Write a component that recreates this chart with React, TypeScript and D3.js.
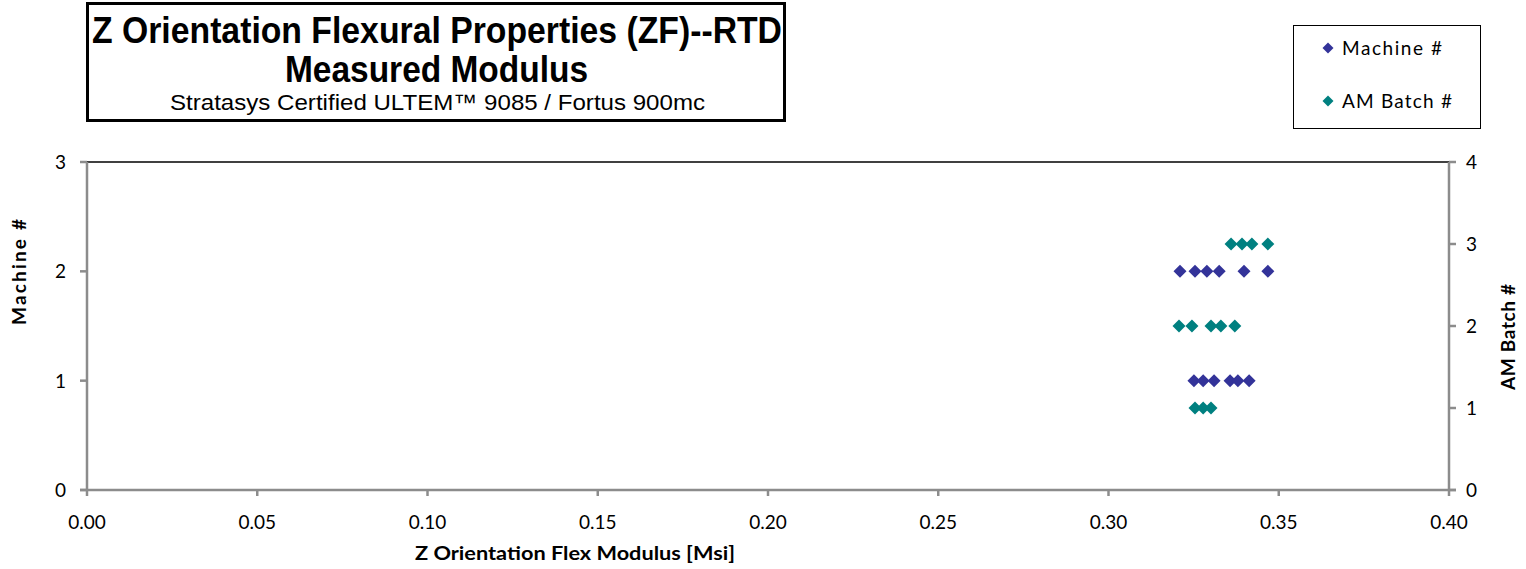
import React from "react";
import * as d3 from "d3";

const machineLevels = [2, 2, 2, 2, 2, 2, 1, 1, 1, 1, 1, 1];
const machineModulus = [0.321, 0.3254, 0.3289, 0.3325, 0.3398, 0.3468, 0.3251, 0.3278, 0.331, 0.3357, 0.338, 0.3413];
const batchLevels = [3, 3, 3, 3, 2, 2, 2, 2, 2, 1, 1, 1];
const batchModulus = [0.336, 0.3392, 0.3421, 0.3468, 0.3207, 0.3245, 0.3301, 0.333, 0.3371, 0.3254, 0.3278, 0.3301];
const xTicks = [0, 0.05, 0.1, 0.15, 0.2, 0.25, 0.3, 0.35, 0.4];
const leftTicks = [0, 1, 2, 3];
const rightTicks = [0, 1, 2, 3, 4];

const W = 1526, H = 569;
const L = 87, R = 1449, T = 162, B = 490;
const machineColor = "#333399";
const batchColor = "#008080";
const axisColor = "#8c8c8c";
const tickFont = "Lato, 'Open Sans', sans-serif";
const titleFont = "'Liberation Sans Narrow', 'Liberation Sans', Arial, sans-serif";

function diamond(cx: number, cy: number, r: number) {
  return `M${cx},${cy - r}L${cx + r},${cy}L${cx},${cy + r}L${cx - r},${cy}Z`;
}

export default function App() {
  const x = d3.scaleLinear().domain([0, 0.4]).range([L, R]);
  const yL = d3.scaleLinear().domain([0, 3]).range([B, T]);
  const yR = d3.scaleLinear().domain([0, 4]).range([B, T]);
  const r = 6.5;
  return (
    <div style={{ position: "absolute", left: 0, top: 0 }}>
      <svg width={W} height={H} style={{ display: "block", background: "#fff" }}>
        {/* title box */}
        <rect x={87.5} y={3.5} width={697} height={117} fill="#fff" stroke="#000" strokeWidth={3} />
        <text x={92} y={43} fontFamily={titleFont} fontWeight="bold" fontSize={36} textLength={690} lengthAdjust="spacingAndGlyphs">
          Z Orientation Flexural Properties (ZF)--RTD
        </text>
        <text x={285} y={82} fontFamily={titleFont} fontWeight="bold" fontSize={36} textLength={303} lengthAdjust="spacingAndGlyphs">
          Measured Modulus
        </text>
        <text x={170} y={110} fontFamily={titleFont} fontSize={22} textLength={535} lengthAdjust="spacingAndGlyphs">
          Stratasys Certified  ULTEM™  9085 / Fortus 900mc
        </text>

        {/* legend */}
        <rect x={1293.5} y={25.5} width={187} height={103} fill="#fff" stroke="#000" strokeWidth={1} />
        <path d={diamond(1328, 48, 5.5)} fill={machineColor} />
        <text x={1342} y={55} fontFamily={tickFont} fontSize={19} textLength={100} lengthAdjust="spacing">Machine #</text>
        <path d={diamond(1328, 101, 5.5)} fill={batchColor} />
        <text x={1342} y={108} fontFamily={tickFont} fontSize={19} textLength={110} lengthAdjust="spacing">AM Batch #</text>

        {/* plot frame */}
        <line x1={L} x2={R} y1={T} y2={T} stroke="#000" strokeWidth={1.5} />
        <line x1={L} x2={L} y1={T} y2={B} stroke={axisColor} strokeWidth={2.5} />
        <line x1={R} x2={R} y1={T} y2={B} stroke={axisColor} strokeWidth={2.5} />
        <line x1={L - 7} x2={R + 7} y1={B} y2={B} stroke={axisColor} strokeWidth={2.5} />

        {/* x axis */}
        {xTicks.map((t) => (
          <g key={"x" + t}>
            <line x1={x(t)} x2={x(t)} y1={B} y2={B + 6} stroke={axisColor} strokeWidth={2.5} />
            <text x={x(t)} y={529} textAnchor="middle" fontFamily={tickFont} fontSize={19}>
              {d3.format(".2f")(t)}
            </text>
          </g>
        ))}
        <text x={415} y={560} fontFamily={tickFont} fontWeight="bold" fontSize={18} textLength={320} lengthAdjust="spacingAndGlyphs">
          Z Orientation  Flex Modulus  [Msi]
        </text>

        {/* left axis */}
        {leftTicks.map((t) => (
          <g key={"l" + t}>
            <line x1={L - 7} x2={L} y1={yL(t)} y2={yL(t)} stroke={axisColor} strokeWidth={2.5} />
            <text x={66} y={yL(t) + 7} textAnchor="end" fontFamily={tickFont} fontSize={19}>{t}</text>
          </g>
        ))}
        <text transform={`translate(26,${272}) rotate(-90)`} textAnchor="middle" fontFamily={tickFont} fontWeight="bold" fontSize={19} textLength={106} lengthAdjust="spacing">
          Machine  #
        </text>

        {/* right axis */}
        {rightTicks.map((t) => (
          <g key={"r" + t}>
            <line x1={R} x2={R + 7} y1={yR(t)} y2={yR(t)} stroke={axisColor} strokeWidth={2.5} />
            <text x={1466} y={yR(t) + 7} fontFamily={tickFont} fontSize={19}>{t}</text>
          </g>
        ))}
        <text transform={`translate(1515,${337}) rotate(-90)`} textAnchor="middle" fontFamily={tickFont} fontWeight="bold" fontSize={19} textLength={106} lengthAdjust="spacing">
          AM Batch  #
        </text>

        {/* points */}
        {machineModulus.map((v, i) => (
          <path key={"m" + i} d={diamond(x(v), yL(machineLevels[i]), r)} fill={machineColor} />
        ))}
        {batchModulus.map((v, i) => (
          <path key={"b" + i} d={diamond(x(v), yR(batchLevels[i]), r)} fill={batchColor} />
        ))}
      </svg>
    </div>
  );
}
